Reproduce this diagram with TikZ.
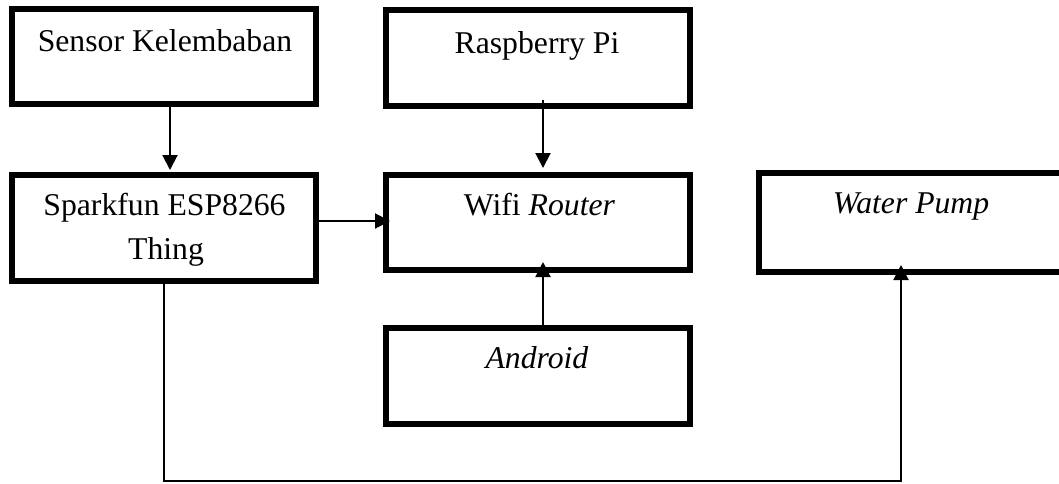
\documentclass[tikz,border=0pt]{standalone}
\usepackage{fontspec}
\setmainfont{Liberation Serif}
\usetikzlibrary{arrows.meta}
\begin{document}
\begin{tikzpicture}[x=1pt,y=-1pt,
  box/.style={draw=black,line width=6pt,rectangle,inner sep=0pt,outer sep=0pt},
  lbl/.style={inner sep=0pt,anchor=base,font=\fontsize{31.7}{44}\selectfont},
  conn/.style={draw=black,line width=2pt,-{Triangle[length=15pt,width=15pt]}}]
\useasboundingbox (0,0) rectangle (1059,483);
% boxes
\node[box,minimum width=304pt,minimum height=95pt] (sensor) at (164,56.5) {};
\node[box,minimum width=304.5pt,minimum height=96pt] (rasp) at (537.75,58) {};
\node[box,minimum width=304pt,minimum height=106.5pt] (spark) at (164,227.75) {};
\node[box,minimum width=304.5pt,minimum height=95pt] (wifi) at (537.75,222) {};
\node[box,minimum width=304pt,minimum height=99.5pt] (pump) at (911,222.25) {};
\node[box,minimum width=304.5pt,minimum height=96pt] (android) at (537.75,376) {};
% labels
\node[lbl] (tsensor) at (165,51) {Sensor Kelembaban};
\node[lbl] (trasp) at (537,53) {Raspberry Pi};
\node[lbl] (tspark1) at (164.5,215) {Sparkfun ESP8266};
\node[lbl] (tspark2) at (166,259) {Thing};
\node[lbl] (twifi) at (539.5,215) {Wifi \textit{Router}};
\node[lbl] (tpump) at (911,213) {\textit{Water Pump}};
\node[lbl] (tandroid) at (537,368) {\textit{Android}};
% connectors
\coordinate (c1) at (164,481);
\coordinate (c2) at (901,481);
\draw[conn,shorten >=4.5pt] ([xshift=6pt]sensor.south) -- ([xshift=6pt]spark.north);
\draw[conn,shorten >=6.5pt] ([xshift=5.25pt,yshift=6pt]rasp.south) -- ([xshift=5.25pt]wifi.north);
\draw[conn,shorten >=-4.5pt] ([yshift=6.75pt]spark.east) -- ([yshift=1pt]wifi.west);
\draw[conn,shorten >=-7.5pt] ([xshift=5.25pt]android.north) -- ([xshift=5.25pt]wifi.south);
\draw[conn,shorten >=-7pt] (spark.south) -- (c1) -- (c2) -- (c2 |- pump.south);
\end{tikzpicture}
\end{document}
